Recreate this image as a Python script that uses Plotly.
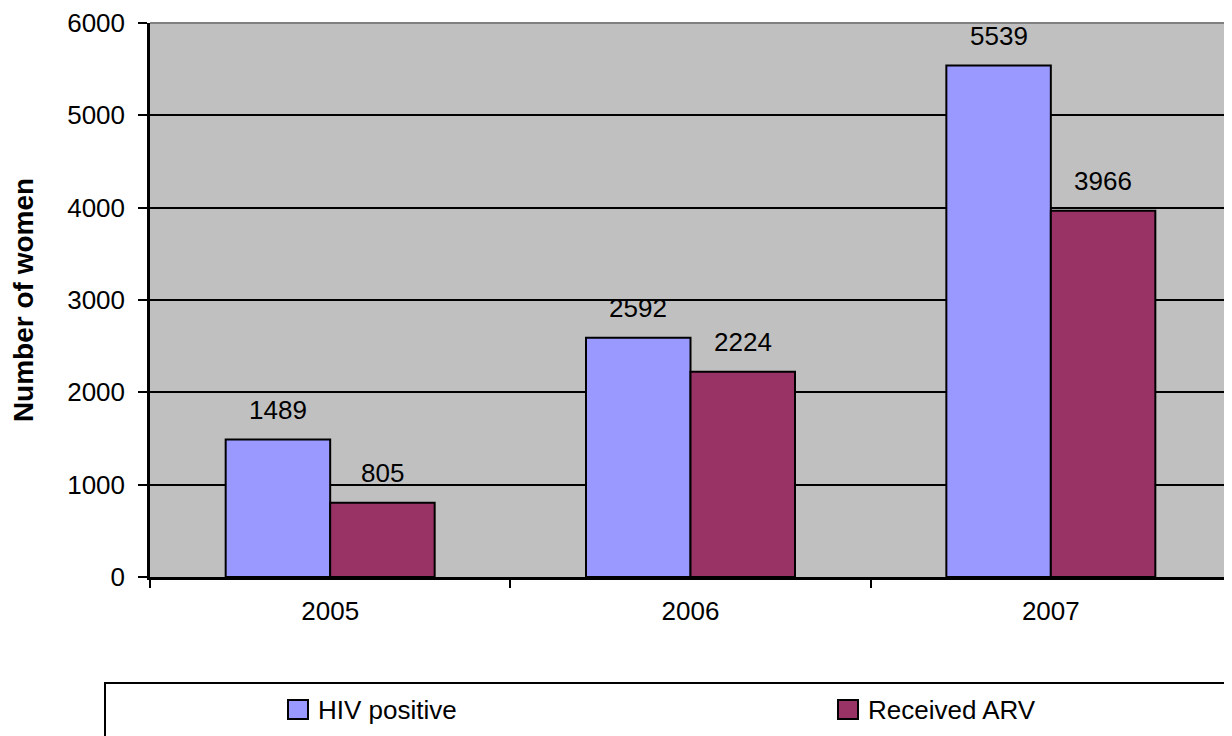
import plotly.graph_objects as go

# ---- data ----
years = ["2005", "2006", "2007"]
hiv_positive = [1489, 2592, 5539]
received_arv = [805, 2224, 3966]
series_names = ["HIV positive", "Received ARV"]
series_colors = ["#9999FF", "#993366"]
y_tick_values = [0, 1000, 2000, 3000, 4000, 5000, 6000]
y_title = "Number of women"

# ---- layout geometry (page has an 8px body margin) ----
W, H = 1232, 736
OFF = 8
ML, MT = 150 - OFF, 23 - OFF
MR = W - (1231 - OFF)
MB = H - (577 - OFF)
PW = W - ML - MR
PH = H - MT - MB
BARGAP = 0.42
FONT = "Arial, 'Liberation Sans', sans-serif"
FS = 26


def pxx(page_x):
    return (page_x - OFF - ML) / PW


def pxy(page_y):
    return (H - MB - (page_y - OFF)) / PH


fig = go.Figure()
series_values = [hiv_positive, received_arv]
for name, vals, col in zip(series_names, series_values, series_colors):
    fig.add_trace(go.Bar(
        x=years, y=vals, name=name,
        marker=dict(color=col, line=dict(color="black", width=2)),
        showlegend=False,
    ))

# value labels
bar_w = PW / len(years) * (1 - BARGAP) / len(series_values)
annotations = []
for si, vals in enumerate(series_values):
    shift = (si - (len(series_values) - 1) / 2) * bar_w
    for ci, v in enumerate(vals):
        annotations.append(dict(
            x=ci, y=v, xref="x", yref="y", text=str(v), showarrow=False,
            xshift=shift, yshift=13, yanchor="bottom", xanchor="center",
            font=dict(family=FONT, size=FS, color="black"),
        ))

# manual legend
shapes = [
    dict(type="line", xref="paper", yref="paper", x0=0, x1=1, y0=1, y1=1,
         line=dict(color="#808080", width=2), layer="above"),
    dict(type="rect", xref="paper", yref="paper",
         x0=pxx(105), x1=pxx(1250), y0=pxy(683), y1=pxy(760),
         line=dict(color="black", width=2), fillcolor="white"),
]
legend_x = [287, 837]
for lx, name, col in zip(legend_x, series_names, series_colors):
    shapes.append(dict(type="rect", xref="paper", yref="paper",
                       x0=pxx(lx + 1), x1=pxx(lx + 21), y0=pxy(700), y1=pxy(719),
                       line=dict(color="black", width=2), fillcolor=col))
    annotations.append(dict(
        x=pxx(lx + 29), y=pxy(710), xref="paper", yref="paper", text=name,
        showarrow=False, xanchor="left", yanchor="middle",
        font=dict(family=FONT, size=FS, color="black"),
    ))

fig.update_layout(
    width=W, height=H,
    margin=dict(l=ML, r=MR, t=MT, b=MB, pad=0),
    paper_bgcolor="white", plot_bgcolor="#C0C0C0",
    barmode="group", bargap=BARGAP, bargroupgap=0,
    font=dict(family=FONT, size=FS, color="black"),
    annotations=annotations, shapes=shapes,
    showlegend=False,
)
fig.update_xaxes(
    type="category", range=[-0.5, len(years) - 0.5],
    showgrid=False, zeroline=False,
    showline=True, linecolor="black", linewidth=2.5,
    ticks="outside", tickson="boundaries", ticklen=8, tickwidth=2, tickcolor="black",
    ticklabelstandoff=9, tickangle=0,
    tickfont=dict(family=FONT, size=FS, color="black"),
    fixedrange=True,
)
fig.update_yaxes(
    range=[0, 6000], tickvals=y_tick_values, ticktext=[str(v) for v in y_tick_values],
    showgrid=True, gridcolor="black", gridwidth=2, zeroline=False,
    showline=True, linecolor="black", linewidth=2.5,
    ticks="outside", ticklen=9, tickwidth=2, tickcolor="black",
    ticklabelstandoff=8,
    tickfont=dict(family=FONT, size=FS, color="black"),
    title=dict(text="<b>" + y_title + "</b>", standoff=36,
               font=dict(family=FONT, size=28, color="black")),
    automargin=False, fixedrange=True,
)
fig.write_html("out.html")
